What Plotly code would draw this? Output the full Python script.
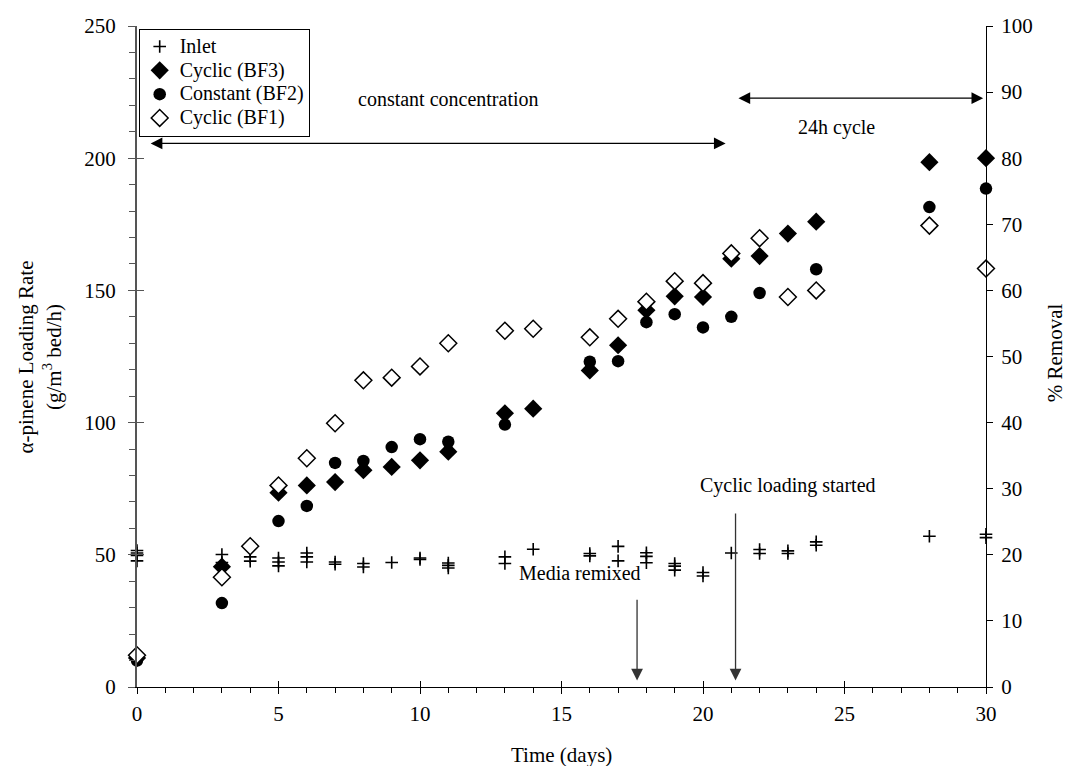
import plotly.graph_objects as go

# ---------------- data ----------------
inlet_days = [0, 0, 0, 0, 3, 3, 4, 4, 5, 5, 5, 6, 6, 6, 7, 7, 8, 8, 9, 10, 10,
              11, 11, 11, 13, 13, 14, 16, 16, 17, 17, 18, 18, 18, 19, 19, 19,
              20, 20, 21, 22, 22, 23, 23, 24, 24, 28, 30, 30]
inlet_rate = [51.6, 50.7, 49.8, 47.7, 50.1, 47.1, 49.2, 47.6, 48.8, 47.3, 45.8,
              50.7, 49.2, 47.3, 47.3, 46.4, 46.7, 45.4, 47.1, 48.8, 48.2,
              46.9, 46.0, 45.0, 49.2, 46.7, 52.1, 50.5, 49.6, 53.2, 47.7,
              50.8, 49.4, 47.0, 46.7, 45.7, 44.2, 43.3, 42.0, 50.7, 52.0, 50.5,
              51.5, 50.5, 54.9, 53.6, 57.0, 57.8, 56.5]

bf3_days = [0, 3, 5, 6, 7, 8, 9, 10, 11, 13, 14, 16, 17, 18, 19, 20, 21, 22, 23, 24, 28, 30]
bf3_removal = [4.4, 18.2, 29.4, 30.5, 31.0, 32.8, 33.3, 34.3, 35.6, 41.4, 42.1, 47.9,
               51.7, 57.0, 59.1, 59.0, 64.8, 65.2, 68.6, 70.4, 79.4, 80.0]

bf2_days = [0, 3, 5, 6, 7, 8, 9, 10, 11, 13, 16, 17, 18, 19, 20, 21, 22, 24, 28, 30]
bf2_removal = [4.0, 12.7, 25.1, 27.4, 33.9, 34.2, 36.3, 37.5, 37.1, 39.7, 49.2, 49.3,
               55.2, 56.4, 54.4, 56.0, 59.6, 63.2, 72.6, 75.4]

bf1_days = [0, 3, 4, 5, 6, 7, 8, 9, 10, 11, 13, 14, 16, 17, 18, 19, 20, 21, 22, 23, 24, 28, 30]
bf1_removal = [4.8, 16.6, 21.3, 30.5, 34.6, 39.9, 46.4, 46.8, 48.5, 52.0, 53.9, 54.2, 52.9,
               55.7, 58.3, 61.4, 61.1, 65.6, 67.9, 59.0, 60.0, 69.8, 63.3]

series_names = ["Inlet", "Cyclic (BF3)", "Constant (BF2)", "Cyclic (BF1)"]

left_ticks = [0, 50, 100, 150, 200, 250]
right_ticks = [0, 10, 20, 30, 40, 50, 60, 70, 80, 90, 100]
x_ticks = [0, 5, 10, 15, 20, 25, 30]

FONT = "Liberation Serif"
TXT = 21


def legend_name(s):
    return '<span style="font-size:20px">' + s + '</span>'


fig = go.Figure()

fig.add_trace(go.Scatter(
    x=inlet_days, y=inlet_rate, mode="markers", name=legend_name(series_names[0]),
    marker=dict(symbol="cross-thin", size=9, line=dict(color="black", width=1.6)),
    cliponaxis=False, yaxis="y"))
fig.add_trace(go.Scatter(
    x=bf3_days, y=bf3_removal, mode="markers", name=legend_name(series_names[1]),
    marker=dict(symbol="diamond", size=14, color="black"),
    cliponaxis=False, yaxis="y2"))
fig.add_trace(go.Scatter(
    x=bf2_days, y=bf2_removal, mode="markers", name=legend_name(series_names[2]),
    marker=dict(symbol="circle", size=12.5, color="black"),
    cliponaxis=False, yaxis="y2"))
fig.add_trace(go.Scatter(
    x=bf1_days, y=bf1_removal, mode="markers", name=legend_name(series_names[3]),
    marker=dict(symbol="diamond", size=13, color="white", line=dict(color="black", width=1.5)),
    cliponaxis=False, yaxis="y2"))
# helper trace for the inward (crossing) halves of major ticks
fig.add_trace(go.Scatter(x=[None], y=[None], xaxis="x2", yaxis="y3",
                         showlegend=False, hoverinfo="skip"))

fig.update_layout(
    width=1070, height=766,
    margin=dict(l=137, r=84, t=26, b=79),
    paper_bgcolor="white", plot_bgcolor="white",
    font=dict(family=FONT, size=TXT, color="black"),
    showlegend=True,
    legend=dict(x=0.002, y=0.996, xanchor="left", yanchor="top",
                bordercolor="black", borderwidth=1, bgcolor="white",
                font=dict(family=FONT, size=16), tracegroupgap=0,
                itemwidth=30),
    xaxis=dict(range=[0, 30], tickvals=x_ticks, showgrid=False, zeroline=False,
               showline=True, linecolor="black", linewidth=1,
               ticks="outside", ticklen=6, tickcolor="black", tickwidth=1,
               minor=dict(dtick=1, ticks="outside", ticklen=5, tickcolor="black", showgrid=False),
               tickfont=dict(size=TXT), anchor="y", ticklabelstandoff=2),
    yaxis=dict(range=[0, 250], tickvals=left_ticks, showgrid=False, zeroline=False,
               showline=True, linecolor="#555", linewidth=2,
               ticks="outside", ticklen=7, tickcolor="#555", tickwidth=1,
               minor=dict(dtick=10, ticks="outside", ticklen=6, tickcolor="#555", showgrid=False),
               tickfont=dict(size=TXT), anchor="x", ticklabelstandoff=8),
    yaxis2=dict(range=[0, 100], tickvals=right_ticks, overlaying="y", side="right",
                showgrid=False, zeroline=False, showline=True, linecolor="black", linewidth=1,
                ticks="outside", ticklen=6, tickcolor="black", tickfont=dict(size=TXT),
                anchor="x", ticklabelstandoff=4),
    xaxis2=dict(range=[0, 30], tickvals=x_ticks, overlaying="x", anchor="y",
                showticklabels=False, showgrid=False, zeroline=False, showline=False,
                ticks="inside", ticklen=6, tickcolor="black"),
    yaxis3=dict(range=[0, 250], tickvals=left_ticks, overlaying="y", anchor="x",
                showticklabels=False, showgrid=False, zeroline=False, showline=False,
                ticks="inside", ticklen=7, tickcolor="#555"),
)

ANN = 20
annots = [
    dict(text="Time (days)", xref="paper", yref="paper", x=0.5, y=-0.103,
         showarrow=False, font=dict(size=TXT), xanchor="center", yanchor="middle"),
    dict(text="α-pinene Loading Rate<br>(g/m<sup>3</sup> bed/h)", xref="paper", yref="paper",
         x=-0.1143, y=0.5, textangle=-90, showarrow=False, font=dict(size=TXT),
         xanchor="center", yanchor="middle"),
    dict(text="% Removal", xref="paper", yref="paper", x=1.0813, y=0.505, textangle=-90,
         showarrow=False, font=dict(size=TXT), xanchor="center", yanchor="middle"),
    dict(text="constant concentration", xref="x", yref="y", x=11.0, y=222.5,
         showarrow=False, font=dict(size=ANN)),
    dict(text="24h cycle", xref="x", yref="y", x=24.7, y=211.7,
         showarrow=False, font=dict(size=ANN)),
    dict(text="Media remixed", xref="x", yref="y", x=15.65, y=43.0,
         showarrow=False, font=dict(size=ANN)),
    dict(text="Cyclic loading started", xref="x", yref="y", x=23.0, y=76.3,
         showarrow=False, font=dict(size=ANN)),
    # arrows
    dict(text="", x=20.8, y=205.6, ax=0.43, ay=205.6, xref="x", yref="y", axref="x", ayref="y",
         showarrow=True, arrowhead=2, startarrowhead=2, arrowside="end+start",
         arrowsize=1.8, startarrowsize=1.8, arrowwidth=1.3, arrowcolor="black"),
    dict(text="", x=29.9, y=222.7, ax=21.2, ay=222.7, xref="x", yref="y", axref="x", ayref="y",
         showarrow=True, arrowhead=2, startarrowhead=2, arrowside="end+start",
         arrowsize=1.8, startarrowsize=1.8, arrowwidth=1.3, arrowcolor="black"),
    dict(text="", x=17.67, y=2.5, ax=17.67, ay=33.6, xref="x", yref="y", axref="x", ayref="y",
         showarrow=True, arrowhead=2, arrowsize=1.8, arrowwidth=1.3, arrowcolor="#333"),
    dict(text="", x=21.15, y=2.5, ax=21.15, ay=66.2, xref="x", yref="y", axref="x", ayref="y",
         showarrow=True, arrowhead=2, arrowsize=1.8, arrowwidth=1.3, arrowcolor="#333"),
]
fig.update_layout(annotations=annots)

fig.write_html("out.html")
